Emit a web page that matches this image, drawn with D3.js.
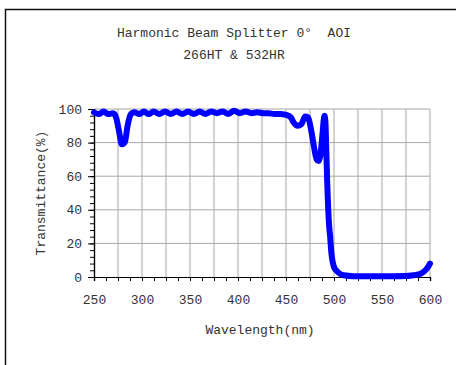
<!DOCTYPE html>
<html>
<head>
<meta charset="utf-8">
<script src="https://cdn.jsdelivr.net/npm/d3@7"></script>
<style>
  body { margin: 0; background: #fff; }
  text { font-family: "Liberation Mono", monospace; fill: #333; white-space: pre; }
</style>
</head>
<body>
<script>
// wavelength (nm) and transmittance (%)
var wavelength = [250,255,260,265,270,273,276,279,282,285,288,292,297,302,307,312,318,324,330,336,342,348,354,360,366,372,378,384,390,396,402,408,414,420,426,432,438,444,450,455,458,462,466,470,473,476,479,482,484,486,488,490,491,492,493,494,495,496,497,498,500,503,506,510,520,540,560,575,582,588,592,596,599,600];
var transmittance = [98,97,98.5,97,97.5,95,87,79,80,90,96.5,98,97,98.5,97,98.5,97,98.5,97,98.5,97,98.5,97,98.5,97,98.5,97.5,98.5,97,99,97.5,98.5,97.5,98,97.5,97.5,97,97,96.5,95,92,90,91,95.5,95,88,78,70,69,73,85,96,93,75,55,40,30,24,16,11,6,3.5,2,1,0.5,0.5,0.5,0.6,1,1.5,2.5,4.5,7,8];

var xTicks = [250,300,350,400,450,500,550,600];
var yTicks = [0,20,40,60,80,100];
var title1 = 'Harmonic Beam Splitter 0\u00b0  AOI';
var title2 = '266HT & 532HR';

var x = d3.scaleLinear().domain([250,600]).range([94,430]);
var y = d3.scaleLinear().domain([0,100]).range([277,109]);

var svg = d3.select('body').append('svg').attr('width', 456).attr('height', 365);

// outer frame (runs off the page on the right and bottom)
svg.append('rect').attr('x', 5.5).attr('y', 9.5).attr('width', 480).attr('height', 400)
  .attr('fill', 'none').attr('stroke', '#111').attr('stroke-width', 1.5);

svg.append('text').attr('x', 234).attr('y', 37).attr('text-anchor', 'middle').attr('font-size', 13).text(title1);
svg.append('text').attr('x', 234).attr('y', 59).attr('text-anchor', 'middle').attr('font-size', 13).text(title2);

// grid
var grid = svg.append('g');
grid.selectAll('.vg').data(d3.range(275, 601, 25)).enter().append('line')
  .attr('x1', function(d) { return x(d); }).attr('x2', function(d) { return x(d); })
  .attr('y1', y(0)).attr('y2', y(100))
  .attr('stroke', '#a8a8a8').attr('stroke-width', 1);
grid.selectAll('.hg').data(yTicks.slice(1)).enter().append('line')
  .attr('x1', x(250)).attr('x2', x(600))
  .attr('y1', function(d) { return y(d); }).attr('y2', function(d) { return y(d); })
  .attr('stroke', '#a8a8a8').attr('stroke-width', 1);

// axes
var xMinor = svg.append('g').attr('transform', 'translate(0,' + y(0) + ')')
  .call(d3.axisBottom(x).tickValues(d3.range(250, 601, 12.5)).tickSize(4).tickFormat(''));
var xAxis = svg.append('g').attr('transform', 'translate(0,' + y(0) + ')')
  .call(d3.axisBottom(x).tickValues(xTicks).tickSize(4).tickPadding(14));
var yMinor = svg.append('g').attr('transform', 'translate(' + x(250) + ',0)')
  .call(d3.axisLeft(y).tickValues(d3.range(0, 101, 4)).tickSize(4).tickFormat(''));
var yAxis = svg.append('g').attr('transform', 'translate(' + x(250) + ',0)')
  .call(d3.axisLeft(y).tickValues(yTicks).tickSize(6).tickPadding(6));
svg.selectAll('.domain').attr('stroke', '#000').attr('stroke-width', 1.2);
svg.selectAll('.tick line').attr('stroke', '#000');
svg.selectAll('.tick text').attr('font-family', '"Liberation Mono", monospace').attr('font-size', 13).attr('fill', '#333');

svg.append('text').attr('x', 260).attr('y', 334).attr('text-anchor', 'middle').attr('font-size', 13).text('Wavelength(nm)');
svg.append('text').attr('transform', 'translate(45,193) rotate(-90)').attr('text-anchor', 'middle').attr('font-size', 13).text('Transmittance(%)');

// curve
var line = d3.line().curve(d3.curveMonotoneX)
  .x(function(a, i) { return x(wavelength[i]); })
  .y(function(a, i) { return y(a); });
svg.append('path').attr('d', line(transmittance)).attr('fill', 'none')
  .attr('stroke', '#0000ff').attr('stroke-width', 6)
  .attr('stroke-linejoin', 'round').attr('stroke-linecap', 'round');
</script>
</body>
</html>
